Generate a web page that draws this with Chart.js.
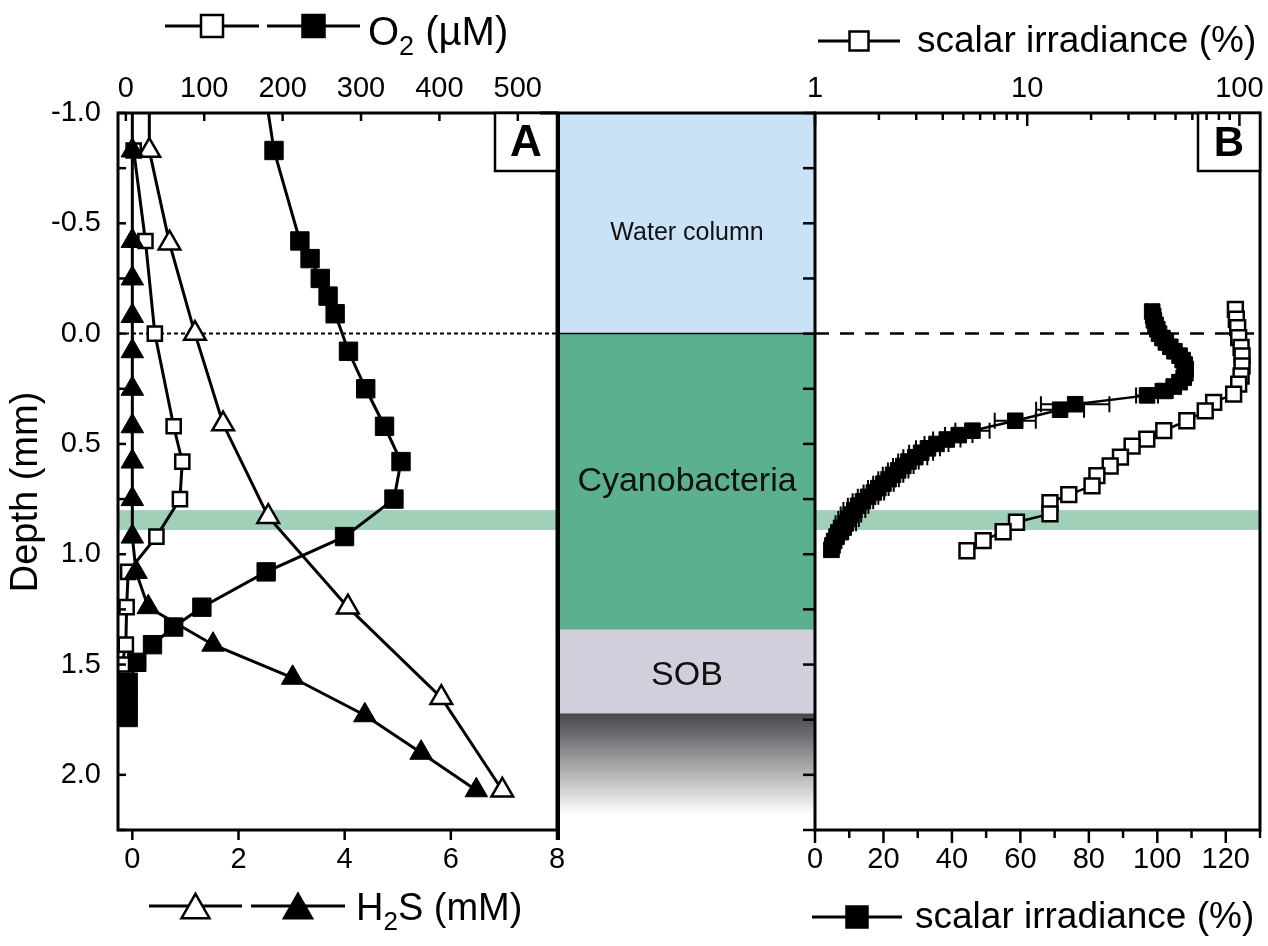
<!DOCTYPE html>
<html>
<head>
<meta charset="utf-8">
<script src="https://cdn.jsdelivr.net/npm/chart.js@4.4.1/dist/chart.umd.min.js"></script>
<style>
  html, body { margin: 0; padding: 0; background: #fff; }
  #wrap { position: relative; width: 1268px; height: 946px; overflow: hidden; }
  canvas { position: absolute; top: 0; }
  #chartA { left: 0; }
  #chartM { left: 540px; }
  #chartB { left: 700px; }
</style>
</head>
<body>
<div id="wrap">
  <canvas id="chartA" width="580" height="946"></canvas>
  <canvas id="chartM" width="300" height="946"></canvas>
  <canvas id="chartB" width="568" height="946"></canvas>
</div>
<script>
// tick labels
const depthLabels = [-1.0, -0.5, 0.0, 0.5, 1.0, 1.5, 2.0];
const o2Labels = [0, 100, 200, 300, 400, 500];
const h2sLabels = [0, 2, 4, 6, 8];
const irrLinLabels = [0, 20, 40, 60, 80, 100, 120];
const irrLogLabels = [1, 10, 100];

// panel A - O2 (uM), open squares
const o2OpenDepth = [-0.83, -0.42, 0.0, 0.42, 0.58, 0.75, 0.92, 1.08, 1.24, 1.41, 1.5];
const o2OpenVal   = [10, 25, 37, 61, 72, 69, 39, 3, 1, 0, -5];
// panel A - O2 (uM), filled squares
const o2FillDepth = [-1.25, -0.83, -0.42, -0.34, -0.25, -0.17, -0.09, 0.08, 0.25, 0.42, 0.58, 0.75, 0.92, 1.08, 1.24, 1.33, 1.41, 1.49, 1.58, 1.66, 1.74];
const o2FillVal   = [171, 189, 222, 235, 248, 258, 267, 284, 306, 330, 351, 342, 279, 179, 97, 61, 34, 14, 3, 3, 3];
// panel A - H2S (mM), open triangles
const h2sOpenDepth = [-1.25, -0.83, -0.41, 0.0, 0.41, 0.83, 1.24, 1.65, 2.07];
const h2sOpenVal   = [0.32, 0.32, 0.7, 1.18, 1.71, 2.56, 4.06, 5.82, 6.97];
// panel A - H2S (mM), filled triangles
const h2sFillDepth = [-1.25, -0.83, -0.42, -0.25, -0.08, 0.08, 0.25, 0.42, 0.58, 0.75, 0.92, 1.08, 1.24, 1.41, 1.56, 1.73, 1.9, 2.07];
const h2sFillVal   = [0, 0, 0, 0, 0, 0, 0, 0, 0, 0, 0, 0.07, 0.3, 1.52, 3.02, 4.38, 5.44, 6.48];

// panel B - scalar irradiance (%), open squares, log axis
const irrOpenDepth = [-0.11, -0.065, -0.027, 0.018, 0.063, 0.101, 0.147, 0.192, 0.229, 0.274, 0.312, 0.35, 0.395, 0.44, 0.478, 0.51, 0.56, 0.60, 0.644, 0.69, 0.73, 0.766, 0.817, 0.855, 0.898, 0.938, 0.984];
const irrOpenVal   = [95.7, 96.7, 98.1, 99.2, 101.8, 102.9, 102.9, 101.8, 99.2, 93.9, 75.6, 69, 56.5, 44, 36.6, 31.2, 27.5, 24.6, 21.3, 20.2, 15.7, 12.8, 12.8, 8.9, 7.7, 6.2, 5.2];
// panel B - scalar irradiance (%), filled squares, linear axis
const irrFillDepth = [-0.10, -0.08, -0.06, -0.04, -0.02, 0.00, 0.02, 0.04, 0.06, 0.08, 0.10, 0.12, 0.14, 0.16, 0.18, 0.20, 0.22, 0.24, 0.26, 0.28,
                      0.32, 0.345, 0.395,
                      0.44, 0.46, 0.48, 0.50, 0.52, 0.54, 0.56, 0.58, 0.60, 0.62, 0.64, 0.66, 0.68, 0.70, 0.72, 0.74, 0.76, 0.78, 0.80, 0.82, 0.84, 0.86, 0.88, 0.90, 0.92, 0.94, 0.96, 0.98];
const irrFillVal   = [98.5, 98.8, 99, 99.5, 100, 100.5, 101.5, 102.5, 103.8, 105, 106.5, 107.4, 108, 108.3, 108.2, 107.7, 106.5, 104.8, 102, 97,
                      76, 71.6, 58.5,
                      46, 42, 38.5, 35.5, 33, 31, 29.3, 27.3, 25.8, 24.3, 22.8, 21.5, 20, 18.5, 17.2, 15.5, 14, 12.6, 11.5, 10.5, 9.8, 9, 8, 7.2, 6.3, 5.6, 5.1, 4.8];
const irrFillErr   = [1.5, 1.5, 1.5, 1.5, 1.5, 1.5, 1.5, 1.5, 1.5, 1.5, 1.5, 1.5, 1.5, 1.5, 1.5, 1.5, 2, 2, 2.5, 3.2,
                      10, 7, 6,
                      5, 4, 4, 3.5, 3.5, 3.5, 3.5, 3, 3, 3, 3, 3, 3, 3, 3, 3, 3, 3, 3.2, 3, 3, 3, 2.5, 2.5, 2, 2, 2, 2];

// middle panel zones (depth, mm)
const zoneNames  = ['Water column', 'Cyanobacteria', 'SOB', ''];
const zoneTop    = [-1.0, 0.0, 1.34, 1.72];
const zoneBottom = [0.0, 1.34, 1.72, 2.25];

// highlighted depth band
const bandTop = 0.8;
const bandBottom = 0.89;

const textFamily = "'Liberation Sans', Arial, sans-serif";
const tickFont = { family: "'Liberation Sans Narrow', 'Liberation Sans', Arial, sans-serif", size: 29 };

function pts(depth, vals) {
  return depth.map((d, i) => ({ x: vals[i], y: d }));
}
function near(list, v) {
  return list.some(d => Math.abs(d - v) < 1e-6);
}
// fixed axis thickness, and no extra room kept for overhanging labels
function fixHeight(h) {
  return s => { s.height = h; s.paddingLeft = 0; s.paddingRight = 0; };
}

function drawMarker(ctx, kind, x, y, size, filled) {
  ctx.beginPath();
  if (kind === 'rect') {
    ctx.rect(x - size / 2, y - size / 2, size, size);
  } else {
    const h = size * 0.87;
    ctx.moveTo(x, y - h / 2);
    ctx.lineTo(x + size / 2, y + h / 2);
    ctx.lineTo(x - size / 2, y + h / 2);
    ctx.closePath();
  }
  ctx.fillStyle = filled ? '#000' : '#fff';
  ctx.fill();
  ctx.lineWidth = 2.5;
  ctx.strokeStyle = '#000';
  ctx.stroke();
}
function drawKey(ctx, x1, x2, y, kind, size, filled) {
  ctx.beginPath();
  ctx.moveTo(x1, y);
  ctx.lineTo(x2, y);
  ctx.lineWidth = 3;
  ctx.strokeStyle = '#000';
  ctx.stroke();
  drawMarker(ctx, kind, (x1 + x2) / 2, y, size, filled);
}
function drawRich(ctx, x, y, parts) {
  ctx.fillStyle = '#000';
  ctx.textAlign = 'left';
  ctx.textBaseline = 'alphabetic';
  parts.forEach(([t, size, dy]) => {
    ctx.font = size + 'px ' + textFamily;
    ctx.fillText(t, x, y + dy);
    x += ctx.measureText(t).width;
  });
}

// tick marks: dir 'in' points into the plot area, 'out' away from it
function drawTicks(chart, spec) {
  const ctx = chart.ctx, area = chart.chartArea;
  ctx.save();
  ctx.strokeStyle = '#000';
  ctx.lineWidth = 2.5;
  Object.keys(spec).forEach(id => {
    const sc = chart.scales[id], s = spec[id];
    sc.ticks.forEach(t => {
      const len = s.len(t.value);
      if (!len) return;
      const p = sc.getPixelForValue(t.value);
      const sign = s.dir === 'in' ? 1 : -1;
      ctx.beginPath();
      if (sc.position === 'left') {
        ctx.moveTo(area.left, p); ctx.lineTo(area.left + sign * len, p);
      } else if (sc.position === 'top') {
        ctx.moveTo(p, area.top); ctx.lineTo(p, area.top + sign * len);
      } else {
        ctx.moveTo(p, area.bottom); ctx.lineTo(p, area.bottom - sign * len);
      }
      ctx.stroke();
    });
  });
  ctx.restore();
}

function drawBandAndZero(chart, dash, width) {
  const ctx = chart.ctx, area = chart.chartArea, y = chart.scales.y;
  ctx.save();
  const y1 = y.getPixelForValue(bandTop), y2 = y.getPixelForValue(bandBottom);
  ctx.fillStyle = '#a0d0b8';
  ctx.fillRect(area.left, y1, area.right - area.left, y2 - y1);
  const y0 = y.getPixelForValue(0);
  ctx.setLineDash(dash);
  ctx.lineWidth = width;
  ctx.strokeStyle = '#000';
  ctx.beginPath();
  ctx.moveTo(area.left, y0);
  ctx.lineTo(area.right, y0);
  ctx.stroke();
  ctx.restore();
}

function drawFrameAndLetter(chart, letter, size) {
  const ctx = chart.ctx, a = chart.chartArea;
  ctx.save();
  ctx.strokeStyle = '#000';
  ctx.lineWidth = 3;
  ctx.strokeRect(a.left, a.top, a.right - a.left, a.bottom - a.top);
  const bw = 62, bh = 58;
  ctx.fillStyle = '#fff';
  ctx.fillRect(a.right - bw, a.top, bw, bh);
  ctx.lineWidth = 2.5;
  ctx.strokeRect(a.right - bw, a.top, bw, bh);
  ctx.fillStyle = '#000';
  ctx.font = 'bold ' + size + 'px ' + textFamily;
  ctx.textAlign = 'center';
  ctx.textBaseline = 'middle';
  ctx.fillText(letter, a.right - bw / 2, a.top + bh / 2 + 2);
  ctx.restore();
}

const commonOpts = {
  responsive: false,
  animation: false,
  events: [],
  plugins: { legend: { display: false }, tooltip: { enabled: false } }
};

function lineSet(data, xAxisID, style, radius, filled, width) {
  return {
    data: data,
    xAxisID: xAxisID,
    yAxisID: 'y',
    showLine: true,
    borderColor: '#000',
    borderWidth: width,
    pointStyle: style,
    pointRadius: radius,
    pointBackgroundColor: filled ? '#000' : '#fff',
    pointBorderColor: '#000',
    pointBorderWidth: filled ? 1 : 2.5
  };
}

// ---------- panel A ----------
const panelA = {
  id: 'panelA',
  beforeDatasetsDraw(chart) { drawBandAndZero(chart, [4, 3], 2); },
  afterDraw(chart) {
    const ctx = chart.ctx;
    drawFrameAndLetter(chart, 'A', 44);
    drawTicks(chart, {
      y: { dir: 'in', len: () => 8 },
      xO2: { dir: 'in', len: () => 8 },
      xH2S: { dir: 'out', len: () => 10 }
    });
    ctx.save();
    drawKey(ctx, 165, 259, 26, 'rect', 22, false);
    drawKey(ctx, 267, 360, 26, 'rect', 22, true);
    drawRich(ctx, 368, 45, [['O', 40, 0], ['2', 27, 10], [' (µM)', 40, 0]]);
    drawKey(ctx, 149, 242, 906, 'tri', 28, false);
    drawKey(ctx, 251, 345, 906, 'tri', 28, true);
    drawRich(ctx, 356, 920, [['H', 38, 0], ['2', 26, 10], ['S (mM)', 38, 0]]);
    ctx.translate(27, 492);
    ctx.rotate(-Math.PI / 2);
    ctx.font = '38px ' + textFamily;
    ctx.textAlign = 'center';
    ctx.textBaseline = 'middle';
    ctx.fillText('Depth (mm)', 0, 0);
    ctx.restore();
  }
};

new Chart(document.getElementById('chartA'), {
  type: 'scatter',
  data: {
    datasets: [
      lineSet(pts(h2sFillDepth, h2sFillVal), 'xH2S', 'triangle', 13, true, 3),
      lineSet(pts(o2OpenDepth, o2OpenVal), 'xO2', 'rect', 10, false, 3),
      lineSet(pts(h2sOpenDepth, h2sOpenVal), 'xH2S', 'triangle', 12.5, false, 3),
      lineSet(pts(o2FillDepth, o2FillVal), 'xO2', 'rect', 13, true, 3)
    ]
  },
  options: {
    ...commonOpts,
    layout: { autoPadding: false, padding: { right: 23 } },
    scales: {
      y: {
        type: 'linear', position: 'left', reverse: true, min: -1, max: 2.25,
        grid: { display: false, drawTicks: false }, border: { display: false },
        ticks: { stepSize: 0.25, autoSkip: false, padding: 17, font: tickFont, color: '#000',
          callback: v => near(depthLabels, v) ? v.toFixed(1) : '' },
        afterFit: s => { s.width = 118; s.paddingTop = 0; s.paddingBottom = 0; }
      },
      xO2: {
        type: 'linear', position: 'top', min: -10, max: 550,
        grid: { display: false, drawTicks: false }, border: { display: false },
        ticks: { stepSize: 100, includeBounds: false, autoSkip: false, maxRotation: 0, padding: 7, font: tickFont, color: '#000',
          callback: v => near(o2Labels, v) ? String(v) : '' },
        afterFit: fixHeight(113)
      },
      xH2S: {
        type: 'linear', position: 'bottom', min: -0.27, max: 8,
        grid: { display: false, drawTicks: false }, border: { display: false },
        ticks: { stepSize: 2, includeBounds: false, autoSkip: false, maxRotation: 0, padding: 13, font: tickFont, color: '#000',
          callback: v => near(h2sLabels, v) ? String(v) : '' },
        afterFit: fixHeight(116)
      }
    }
  },
  plugins: [panelA]
});

// ---------- middle panel ----------
const zoneFill = ['#c9e2f5', '#5bb08f', '#d1cfdc', null];
const zoneFont = [25, 34, 34];
const zoneShift = [10, 0, 4];

const zonePanel = {
  id: 'zonePanel',
  afterDatasetsDraw(chart) {
    const ctx = chart.ctx, a = chart.chartArea, y = chart.scales.y;
    ctx.save();
    ctx.fillStyle = '#111';
    ctx.textAlign = 'center';
    ctx.textBaseline = 'middle';
    zoneNames.forEach((name, i) => {
      if (!name) return;
      const bar = chart.getDatasetMeta(i).data[0];
      ctx.font = zoneFont[i] + 'px ' + textFamily;
      ctx.fillText(name, (a.left + a.right) / 2, (bar.y + bar.base) / 2 + zoneShift[i]);
    });
    ctx.strokeStyle = '#000';
    ctx.lineWidth = 1.5;
    const y0 = y.getPixelForValue(0);
    ctx.beginPath(); ctx.moveTo(a.left, y0); ctx.lineTo(a.right, y0); ctx.stroke();
    ctx.lineWidth = 3;
    ctx.beginPath(); ctx.moveTo(a.left - 20, a.top); ctx.lineTo(a.right, a.top); ctx.stroke();
    ctx.lineWidth = 4;
    ctx.beginPath(); ctx.moveTo(a.left, a.top); ctx.lineTo(a.left, a.bottom + 10); ctx.stroke();
    ctx.restore();
  }
};

new Chart(document.getElementById('chartM'), {
  type: 'bar',
  data: {
    labels: ['zones'],
    datasets: zoneNames.map((name, i) => ({
      label: name,
      data: [[zoneTop[i], zoneBottom[i]]],
      grouped: false,
      barPercentage: 1,
      categoryPercentage: 1,
      borderWidth: 0,
      backgroundColor: zoneFill[i] || (ctx => {
        const chart = ctx.chart;
        if (!chart.chartArea) return '#888';
        const y = chart.scales.y;
        const g = chart.ctx.createLinearGradient(0, y.getPixelForValue(zoneTop[i]), 0, y.getPixelForValue(2.18));
        g.addColorStop(0, '#46464b');
        g.addColorStop(1, '#ffffff');
        return g;
      })
    }))
  },
  options: {
    ...commonOpts,
    layout: { autoPadding: false, padding: { left: 18, right: 24, top: 113, bottom: 116 } },
    scales: {
      x: { display: false },
      y: { display: false, min: -1, max: 2.25, reverse: true }
    }
  },
  plugins: [zonePanel]
});

// ---------- panel B ----------
const errorBars = {
  id: 'errorBars',
  beforeDatasetsDraw(chart) {
    drawBandAndZero(chart, [14, 11], 2.5);
    const ctx = chart.ctx, x = chart.scales.xLin, y = chart.scales.y;
    ctx.save();
    ctx.strokeStyle = '#000';
    ctx.lineWidth = 2;
    irrFillDepth.forEach((d, i) => {
      const py = y.getPixelForValue(d);
      const x1 = x.getPixelForValue(irrFillVal[i] - irrFillErr[i]);
      const x2 = x.getPixelForValue(irrFillVal[i] + irrFillErr[i]);
      ctx.beginPath();
      ctx.moveTo(x1, py); ctx.lineTo(x2, py);
      ctx.moveTo(x1, py - 8); ctx.lineTo(x1, py + 8);
      ctx.moveTo(x2, py - 8); ctx.lineTo(x2, py + 8);
      ctx.stroke();
    });
    ctx.restore();
  },
  afterDraw(chart) {
    const ctx = chart.ctx;
    drawFrameAndLetter(chart, 'B', 42);
    drawTicks(chart, {
      y: { dir: 'out', len: () => 12 },
      xLog: { dir: 'in', len: v => {
        const m = v / Math.pow(10, Math.floor(Math.log10(v) + 1e-9));
        if (Math.abs(m - Math.round(m)) > 1e-6) return 0;
        return Math.round(m) === 1 ? 13 : 7;
      } },
      xLin: { dir: 'out', len: v => (Math.round(v) % 20 === 0 ? 13 : 8) }
    });
    ctx.save();
    ctx.translate(-700, 0);
    drawKey(ctx, 818, 900, 41, 'rect', 19, false);
    drawRich(ctx, 917, 52, [['scalar irradiance (%)', 37, 0]]);
    drawKey(ctx, 812, 902, 917, 'rect', 21, true);
    drawRich(ctx, 915, 928, [['scalar irradiance (%)', 37, 0]]);
    ctx.restore();
  }
};

new Chart(document.getElementById('chartB'), {
  type: 'scatter',
  data: {
    datasets: [
      lineSet(pts(irrOpenDepth, irrOpenVal), 'xLog', 'rect', 10.5, false, 2.5),
      lineSet(pts(irrFillDepth, irrFillVal), 'xLin', 'rect', 11, true, 2.5)
    ]
  },
  options: {
    ...commonOpts,
    layout: { autoPadding: false, padding: { right: 8 } },
    scales: {
      y: {
        type: 'linear', position: 'left', reverse: true, min: -1, max: 2.25,
        grid: { display: false, drawTicks: false }, border: { display: false },
        ticks: { stepSize: 0.25, display: false },
        afterFit: s => { s.width = 115; s.paddingTop = 0; s.paddingBottom = 0; }
      },
      xLog: {
        type: 'logarithmic', position: 'top', min: 1, max: 125,
        grid: { display: false, drawTicks: false }, border: { display: false },
        ticks: { autoSkip: false, maxRotation: 0, padding: 7, font: tickFont, color: '#000',
          callback: v => near(irrLogLabels, v) ? String(v) : '' },
        afterFit: fixHeight(113)
      },
      xLin: {
        type: 'linear', position: 'bottom', min: 0, max: 130,
        grid: { display: false, drawTicks: false }, border: { display: false },
        ticks: { stepSize: 10, autoSkip: false, maxRotation: 0, padding: 13, font: tickFont, color: '#000',
          callback: v => near(irrLinLabels, v) ? String(v) : '' },
        afterFit: fixHeight(116)
      }
    }
  },
  plugins: [errorBars]
});
</script>
</body>
</html>
